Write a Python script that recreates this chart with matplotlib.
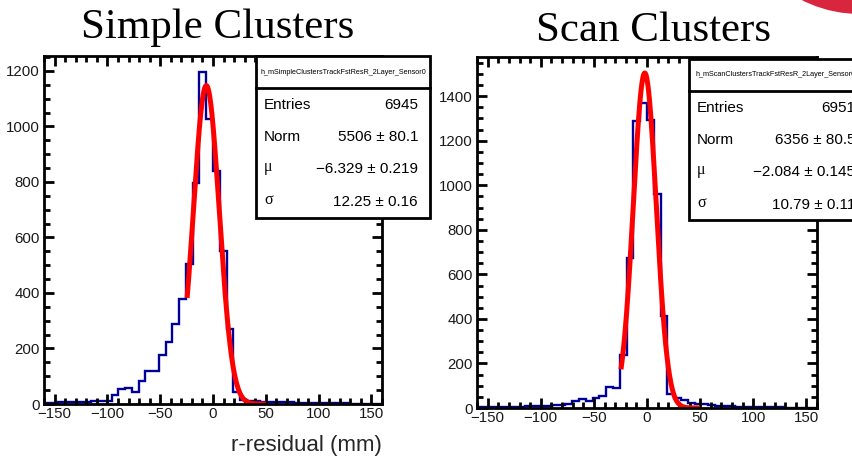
import matplotlib.pyplot as plt
import numpy as np
from matplotlib.patches import Rectangle, Ellipse
from matplotlib.ticker import MultipleLocator

plt.rcParams['font.family'] = ['Liberation Sans', 'DejaVu Sans']

W, H = 852, 458

# histogram binning: 50 bins from -160 to 160 (width 6.4)
bin_lo, bin_hi, n_bins = -160, 160, 50
bin_edges = np.linspace(bin_lo, bin_hi, n_bins + 1)
bin_width = (bin_hi - bin_lo) / n_bins

simple_counts = [3, 4, 6, 6, 7, 8, 8, 10, 10, 12,
                 32, 53, 57, 44, 84, 120, 120, 175, 225, 290,
                 380, 505, 798, 1198, 1026, 838, 552, 272, 45, 15,
                 12, 10, 8, 8, 7, 6, 6, 5, 5, 4,
                 4, 3, 2, 2, 2, 1, 1, 1, 1, 1]
scan_counts = [3, 4, 4, 5, 5, 6, 6, 7, 8, 8,
               10, 12, 14, 18, 32, 42, 30, 45, 55, 95,
               88, 239, 673, 1290, 1371, 1293, 961, 415, 65, 45,
               35, 22, 20, 16, 12, 10, 8, 7, 6, 5,
               5, 4, 4, 3, 3, 2, 2, 2, 1, 1]

# fit parameters from the stat boxes
simple_fit = [5506, -6.329, 12.25]
scan_fit = [6356, -2.084, 10.79]
fit_range = [-24.5, 50]

simple_rows = [("Entries", "6945"), ("Norm", "5506 \u00b1 80.1"),
               ("\u03bc", "\u22126.329 \u00b1 0.219"), ("\u03c3", "12.25 \u00b1 0.16")]
scan_rows = [("Entries", "6951"), ("Norm", "6356 \u00b1 80.5"),
             ("\u03bc", "\u22122.084 \u00b1 0.145"), ("\u03c3", "10.79 \u00b1 0.11")]


def fx(x):
    return x / W


def fy(y):
    return 1 - y / H


def gaus(x, norm, mu, sigma):
    return norm * bin_width / (np.sqrt(2 * np.pi) * sigma) * np.exp(-0.5 * ((x - mu) / sigma) ** 2)


def draw_panel(rect, counts, fit, ymax):
    ax = fig.add_axes(rect)
    ax.stairs(counts, bin_edges, color='#000099', linewidth=1.7)
    xf = np.linspace(fit_range[0], fit_range[1], 300)
    ax.plot(xf, gaus(xf, *fit), color='#ff0000', linewidth=3.6, solid_capstyle='butt')
    ax.set_xlim(-160, 160)
    ax.set_ylim(0, ymax)
    ax.xaxis.set_major_locator(MultipleLocator(50))
    ax.xaxis.set_minor_locator(MultipleLocator(10))
    ax.yaxis.set_major_locator(MultipleLocator(200))
    ax.yaxis.set_minor_locator(MultipleLocator(50))
    ax.tick_params(which='both', direction='in', top=True, right=True, width=2,
                   labelsize=10.8, labelcolor='#1a1a1a')
    ax.tick_params(which='major', length=7.5)
    ax.tick_params(which='minor', length=4)
    ax.tick_params(axis='x', pad=2)
    ax.tick_params(axis='y', pad=3)
    for s in ax.spines.values():
        s.set_linewidth(2)
    return ax


def stats_box(left, top, div, bottom, width, name, rows, val_dx):
    fig.patches.append(Rectangle((fx(left), fy(bottom)), width / W, (bottom - top) / H,
                                 transform=fig.transFigure, facecolor='white',
                                 edgecolor='black', linewidth=2, zorder=5))
    fig.lines.append(plt.Line2D([fx(left), fx(left + width)], [fy(div), fy(div)],
                                transform=fig.transFigure, color='black', linewidth=2, zorder=6))
    fig.text(fx(left + width / 2), fy((top + div) / 2), name, fontsize=5.2,
             ha='center', va='center', zorder=7)
    offs = [49, 81, 113, 146]
    for (lab, val), o in zip(rows, offs):
        if lab in ("\u03bc", "\u03c3"):
            fig.text(fx(left + 8), fy(top + o - 2), lab, fontsize=11.5,
                     family=['Liberation Serif'], ha='left', va='center', zorder=7)
        else:
            fig.text(fx(left + 8), fy(top + o), lab, fontsize=11,
                     ha='left', va='center', zorder=7)
        fig.text(fx(left + val_dx), fy(top + o), val, fontsize=11,
                 ha='right', va='center', zorder=7)


fig = plt.figure(figsize=(W / 100, H / 100), dpi=100)

draw_panel([fx(44), fy(404), (382 - 44) / W, (404 - 56) / H], simple_counts, simple_fit, 1254)
draw_panel([fx(477), fy(408), (817 - 477) / W, (408 - 57) / H], scan_counts, scan_fit, 1576)

stats_box(256, 56, 88, 218, 174, "h_mSimpleClustersTrackFstResR_2Layer_Sensor0", simple_rows, 162)
stats_box(689, 59, 91, 220, 174, "h_mScanClustersTrackFstResR_2Layer_Sensor0", scan_rows, 166)

fig.text(fx(218), fy(28), "Simple Clusters", fontsize=31, family=['Liberation Serif'],
         ha='center', va='center')
fig.text(fx(653), fy(31), "Scan Clusters", fontsize=31, family=['Liberation Serif'],
         ha='center', va='center')
fig.text(fx(306), fy(445), "r-residual (mm)", fontsize=16, color='#262626',
         ha='center', va='center')

# red decoration in the top right corner
fig.patches.append(Ellipse((fx(860), fy(-115)), 2 * 129 / W, 2 * 129 / H,
                           transform=fig.transFigure, facecolor='#d7263d',
                           edgecolor='none', zorder=8))

fig.savefig('out.png', dpi=100)
